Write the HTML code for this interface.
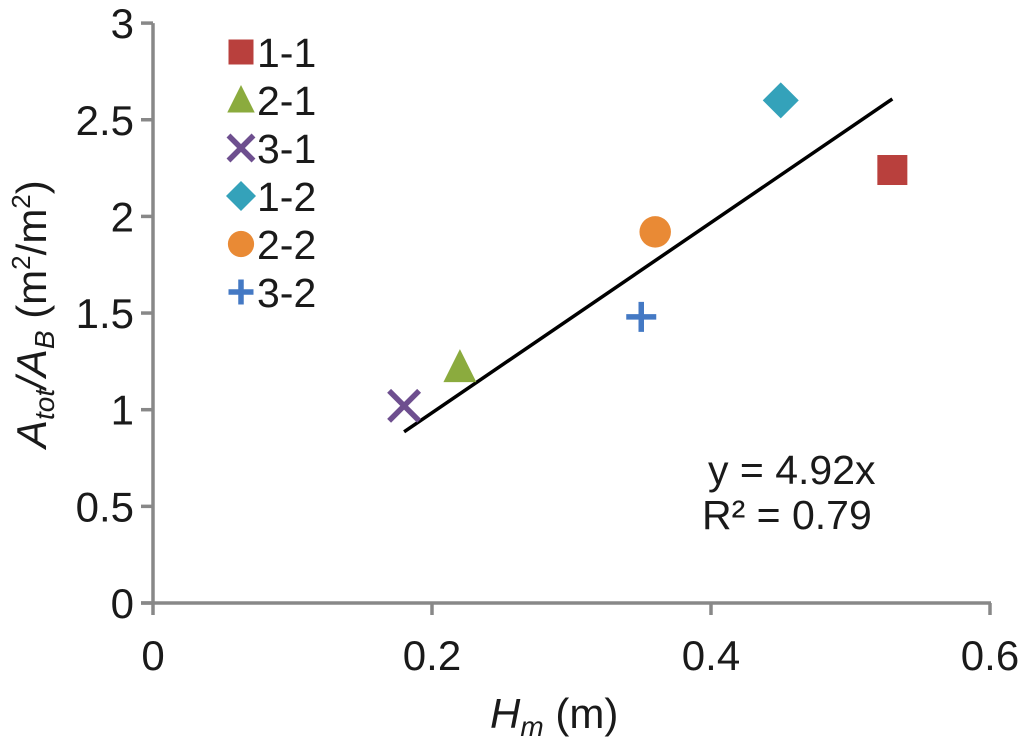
<!DOCTYPE html>
<html><head><meta charset="utf-8"><style>
body{margin:0;background:#fff}
svg text{font-family:"Liberation Sans",sans-serif;fill:#1a1a1a}
</style></head><body>
<svg width="1024" height="748">
<g id="axes"></g>
<g id="marks"></g>
<g id="legend"></g>
<text x="708" y="484" font-size="41">y = 4.92x</text>
<text x="702" y="529" font-size="41">R² = 0.79</text>
<text x="490" y="728" font-size="42"><tspan font-style="italic">H</tspan><tspan font-style="italic" font-size="28" dy="8">m</tspan><tspan dy="-8"> (m)</tspan></text>
<text transform="translate(46,448) rotate(-90)" font-size="42"><tspan font-style="italic">A</tspan><tspan font-style="italic" font-size="28" dy="8">tot</tspan><tspan dy="-8" font-style="italic">/A</tspan><tspan font-style="italic" font-size="28" dy="8">B</tspan><tspan dy="-8"> (m</tspan><tspan font-size="26" dy="-16">2</tspan><tspan dy="16">/m</tspan><tspan font-size="26" dy="-16">2</tspan><tspan dy="16">)</tspan></text>
</svg>
<script>
const xTicks=[0,0.2,0.4,0.6];
const yTicks=[0,0.5,1,1.5,2,2.5,3];
const names=["1-1","2-1","3-1","1-2","2-2","3-2"];
const xs=[0.53,0.22,0.18,0.45,0.36,0.35];
const ys=[2.24,1.22,1.02,2.6,1.92,1.48];
const slope=4.92;
const trendRange=[0.18,0.53];
const X=v=>153+v*1395, Y=v=>603-v*193.3;
const NS="http://www.w3.org/2000/svg";
function mk(p,t,a){const e=document.createElementNS(NS,t);for(const k in a)e.setAttribute(k,a[k]);p.appendChild(e);return e;}
const ax=document.getElementById('axes');
mk(ax,'line',{x1:153,y1:Y(3),x2:153,y2:603,stroke:'#888',"stroke-width":3.5});
mk(ax,'line',{x1:141,y1:603,x2:991,y2:603,stroke:'#888',"stroke-width":3.5});
yTicks.forEach(v=>{mk(ax,'line',{x1:141,x2:153,y1:Y(v),y2:Y(v),stroke:'#888',"stroke-width":3.5});
const t=mk(ax,'text',{x:134,y:Y(v)+15,"font-size":42,"text-anchor":"end"});t.textContent=v;

});
xTicks.forEach(v=>{mk(ax,'line',{x1:X(v),x2:X(v),y1:603,y2:615,stroke:'#888',"stroke-width":3.5});
const t=mk(ax,'text',{x:X(v),y:670,"font-size":42,"text-anchor":"middle"});t.textContent=v;

});
const colors=['#b9403d','#8bab3e','#6e4f8f','#34a2ba','#e98a35','#4479c4'];
function marker(g,i,cx,cy,s){const c=colors[i];let e;
if(i==0)e=mk(g,'rect',{x:cx-s,y:cy-s,width:2*s,height:2*s,fill:c});
else if(i==1)e=mk(g,'polygon',{points:`${cx},${cy-s*1.2} ${cx+s*1.1},${cy+s} ${cx-s*1.1},${cy+s}`,fill:c});
else if(i==2)e=mk(g,'path',{d:`M${cx-s} ${cy-s}L${cx+s} ${cy+s}M${cx+s} ${cy-s}L${cx-s} ${cy+s}`,stroke:c,"stroke-width":5.5,fill:'none'});
else if(i==3)e=mk(g,'polygon',{points:`${cx},${cy-s*1.2} ${cx+s*1.2},${cy} ${cx},${cy+s*1.2} ${cx-s*1.2},${cy}`,fill:c});
else if(i==4)e=mk(g,'circle',{cx:cx,cy:cy,r:s*1.05,fill:c});
else e=mk(g,'path',{d:`M${cx-s} ${cy}H${cx+s}M${cx} ${cy-s}V${cy+s}`,stroke:c,"stroke-width":5.5,fill:'none'});
return e;}
const mg=document.getElementById('marks');
const tl=mk(mg,'line',{x1:X(trendRange[0]),y1:Y(slope*trendRange[0]),x2:X(trendRange[1]),y2:Y(slope*trendRange[1]),stroke:'#000',"stroke-width":3.5});


xs.forEach((v,i)=>{const e=marker(mg,i,X(v),Y(ys[i]),15);

});
const lg=document.getElementById('legend');
names.forEach((n,i)=>{const y=52+i*48;const e=marker(lg,i,241,y,12.5);


const t=mk(lg,'text',{x:257,y:y+15,"font-size":41});t.textContent=n;

});
</script>
</body></html>
